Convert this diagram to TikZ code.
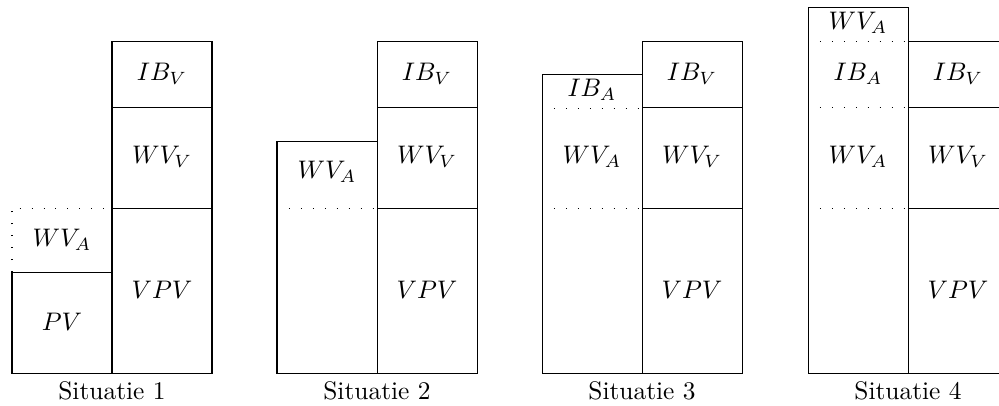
\documentclass[tikz,border=0pt]{standalone}
\begin{document}
\begin{tikzpicture}[x=0.3937pt,y=-0.3937pt,
  seg/.style={draw,line width=0.4pt},
  dots/.style={line width=0.4pt,dash pattern=on 0.4pt off 4.3pt},
  lbl/.style={inner sep=0pt},
  captxt/.style={anchor=north,inner sep=0pt}]
\useasboundingbox (0,0) rectangle (999,405);
\clip (0,0) rectangle (999,405);
% ---------- Situatie 1
\draw[seg] (12,272) rectangle (112,373);
\draw[dots] (12,272) -- (12,208) -- (112,208);
\draw[seg] (112,41) rectangle (212,107);
\draw[seg] (112,107) rectangle (212,208);
\draw[seg] (112,208) rectangle (212,373);
\node[lbl] (a-pv) at (62,322) {$PV$};
\node[lbl] (a-wva) at (62,240) {$WV_A$};
\node[lbl] (a-ibv) at (162,74) {$IB_V$};
\node[lbl] (a-wvv) at (162,157) {$WV_V$};
\node[lbl] (a-vpv) at (162,290) {$VPV$};
\coordinate (a-b) at (112,381);
\node[captxt] (a-cap) at (a-b) {Situatie 1};
% ---------- Situatie 2
\draw[seg] (277,141) rectangle (377,373);
\draw[dots] (277,208) -- (377,208);
\draw[seg] (377,41) rectangle (477,107);
\draw[seg] (377,107) rectangle (477,208);
\draw[seg] (377,208) rectangle (477,373);
\node[lbl] (b-wva) at (327,172) {$WV_A$};
\node[lbl] (b-ibv) at (427,74) {$IB_V$};
\node[lbl] (b-wvv) at (427,157) {$WV_V$};
\node[lbl] (b-vpv) at (427,290) {$VPV$};
\coordinate (b-b) at (377,381);
\node[captxt] (b-cap) at (b-b) {Situatie 2};
% ---------- Situatie 3
\draw[seg] (542,74) rectangle (642,373);
\draw[dots] (542,108) -- (642,108);
\draw[dots] (542,208) -- (642,208);
\draw[seg] (642,41) rectangle (742,107);
\draw[seg] (642,107) rectangle (742,208);
\draw[seg] (642,208) rectangle (742,373);
\node[lbl] (c-iba) at (592,90) {$IB_A$};
\node[lbl] (c-wva) at (592,157) {$WV_A$};
\node[lbl] (c-ibv) at (692,74) {$IB_V$};
\node[lbl] (c-wvv) at (692,157) {$WV_V$};
\node[lbl] (c-vpv) at (692,290) {$VPV$};
\coordinate (c-b) at (642,381);
\node[captxt] (c-cap) at (c-b) {Situatie 3};
% ---------- Situatie 4
\draw[seg] (808,7) rectangle (908,373);
\draw[dots] (808,41) -- (908,41);
\draw[dots] (808,107) -- (908,107);
\draw[dots] (808,208) -- (908,208);
\draw[seg] (908,41) rectangle (1008,107);
\draw[seg] (908,107) rectangle (1008,208);
\draw[seg] (908,208) rectangle (1008,373);
\node[lbl] (d-wvat) at (858,23) {$WV_A$};
\node[lbl] (d-iba) at (858,74) {$IB_A$};
\node[lbl] (d-wva) at (858,157) {$WV_A$};
\node[lbl] (d-ibv) at (958,74) {$IB_V$};
\node[lbl] (d-wvv) at (958,157) {$WV_V$};
\node[lbl] (d-vpv) at (958,290) {$VPV$};
\coordinate (d-b) at (908,381);
\node[captxt] (d-cap) at (d-b) {Situatie 4};
\end{tikzpicture}
\end{document}
